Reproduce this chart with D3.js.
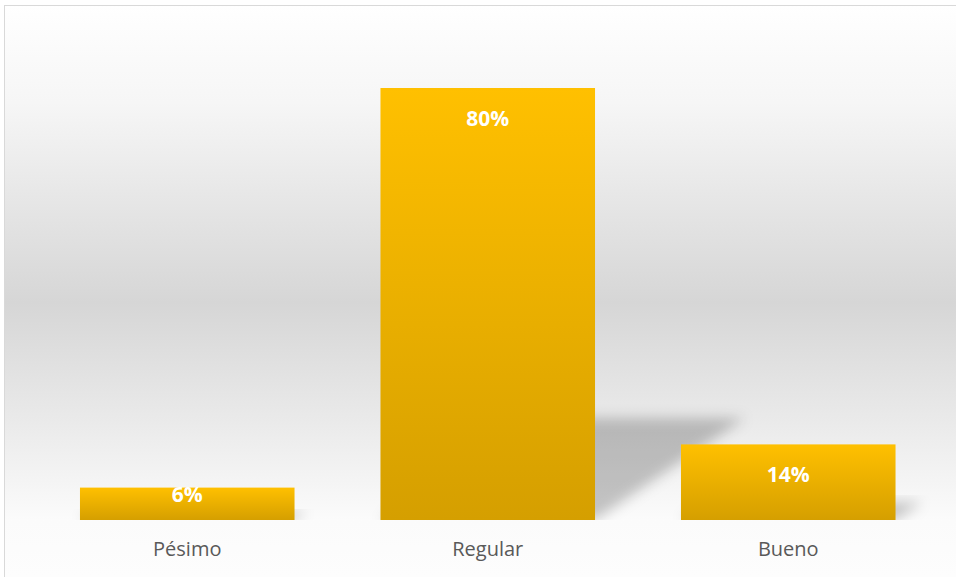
<!DOCTYPE html>
<html>
<head>
<meta charset="utf-8">
<script src="https://cdn.jsdelivr.net/npm/d3@7"></script>
<style>
  body { margin: 0; background: #fff; }
</style>
</head>
<body>
<div id="chart"></div>
<script>
  const categories = ["Pésimo", "Regular", "Bueno"];
  const values = [0.06, 0.80, 0.14];
  const labels = ["6%", "80%", "14%"];

  const W = 956, H = 577;
  const base = 520;

  const svg = d3.select("#chart")
    .append("svg")
    .attr("width", W)
    .attr("height", H);

  const defs = svg.append("defs");

  // chart area background, light at top and bottom, grey in the middle
  const bg = defs.append("linearGradient")
    .attr("id", "bg")
    .attr("gradientUnits", "userSpaceOnUse")
    .attr("x1", 0).attr("y1", 5).attr("x2", 0).attr("y2", 577);
  [[0, "#ffffff"], [0.17, "#f6f6f6"], [0.52, "#d6d6d6"], [0.78, "#efefef"], [0.9, "#fbfbfb"], [1, "#fdfdfd"]]
    .forEach(s => bg.append("stop").attr("offset", s[0]).attr("stop-color", s[1]));

  const barGrad = defs.append("linearGradient")
    .attr("id", "bar")
    .attr("x1", 0).attr("y1", 0).attr("x2", 0).attr("y2", 1);
  barGrad.append("stop").attr("offset", 0).attr("stop-color", "#ffc000");
  barGrad.append("stop").attr("offset", 1).attr("stop-color", "#d59f00");

  defs.append("filter")
    .attr("id", "blur")
    .attr("x", "-30%").attr("y", "-40%").attr("width", "160%").attr("height", "180%")
    .append("feGaussianBlur")
    .attr("stdDeviation", 6.5);

  defs.append("clipPath")
    .attr("id", "above")
    .append("rect")
    .attr("x", 0).attr("y", 0).attr("width", W).attr("height", base);

  svg.append("rect")
    .attr("x", 4.5).attr("y", 5.5)
    .attr("width", W + 10).attr("height", H + 10)
    .attr("fill", "url(#bg)")
    .attr("stroke", "#d9d9d9")
    .attr("stroke-width", 1);

  const x = d3.scaleBand()
    .domain(categories)
    .range([37, 938.5])
    .paddingInner(0.286)
    .paddingOuter(0.143);

  const y = d3.scaleLinear()
    .domain([0, 0.9])
    .range([base, 34]);

  // perspective shadows cast up and to the right
  const sk = 0.236, dx = 0.347;
  svg.append("g")
    .attr("clip-path", "url(#above)")
    .selectAll("polygon")
    .data(values)
    .join("polygon")
    .attr("points", (d, i) => {
      const x0 = x(categories[i]), x1 = x0 + x.bandwidth();
      const h = base - y(d);
      return [[x0, base], [x1, base], [x1 + dx * h, base - sk * h], [x0 + dx * h, base - sk * h]]
        .map(p => p.join(",")).join(" ");
    })
    .attr("fill", "#000")
    .attr("fill-opacity", 0.22)
    .attr("filter", "url(#blur)");

  svg.append("g")
    .selectAll("rect")
    .data(values)
    .join("rect")
    .attr("x", (d, i) => x(categories[i]))
    .attr("y", d => y(d))
    .attr("width", x.bandwidth())
    .attr("height", d => base - y(d))
    .attr("fill", "url(#bar)");

  svg.append("g")
    .selectAll("text")
    .data(values)
    .join("text")
    .attr("x", (d, i) => x(categories[i]) + x.bandwidth() / 2)
    .attr("y", d => Math.min(y(d) + 38, base - 18))
    .attr("text-anchor", "middle")
    .attr("font-family", "'Open Sans', sans-serif")
    .attr("font-weight", "bold")
    .attr("font-size", 21)
    .attr("fill", "#ffffff")
    .text((d, i) => labels[i]);

  const xAxis = svg.append("g")
    .attr("transform", `translate(0,${base})`)
    .call(d3.axisBottom(x).tickSize(0).tickPadding(22));
  xAxis.select(".domain").remove();
  xAxis.selectAll("text")
    .attr("font-family", "'Open Sans', sans-serif")
    .attr("font-size", 20)
    .attr("fill", "#595959");
</script>
</body>
</html>
